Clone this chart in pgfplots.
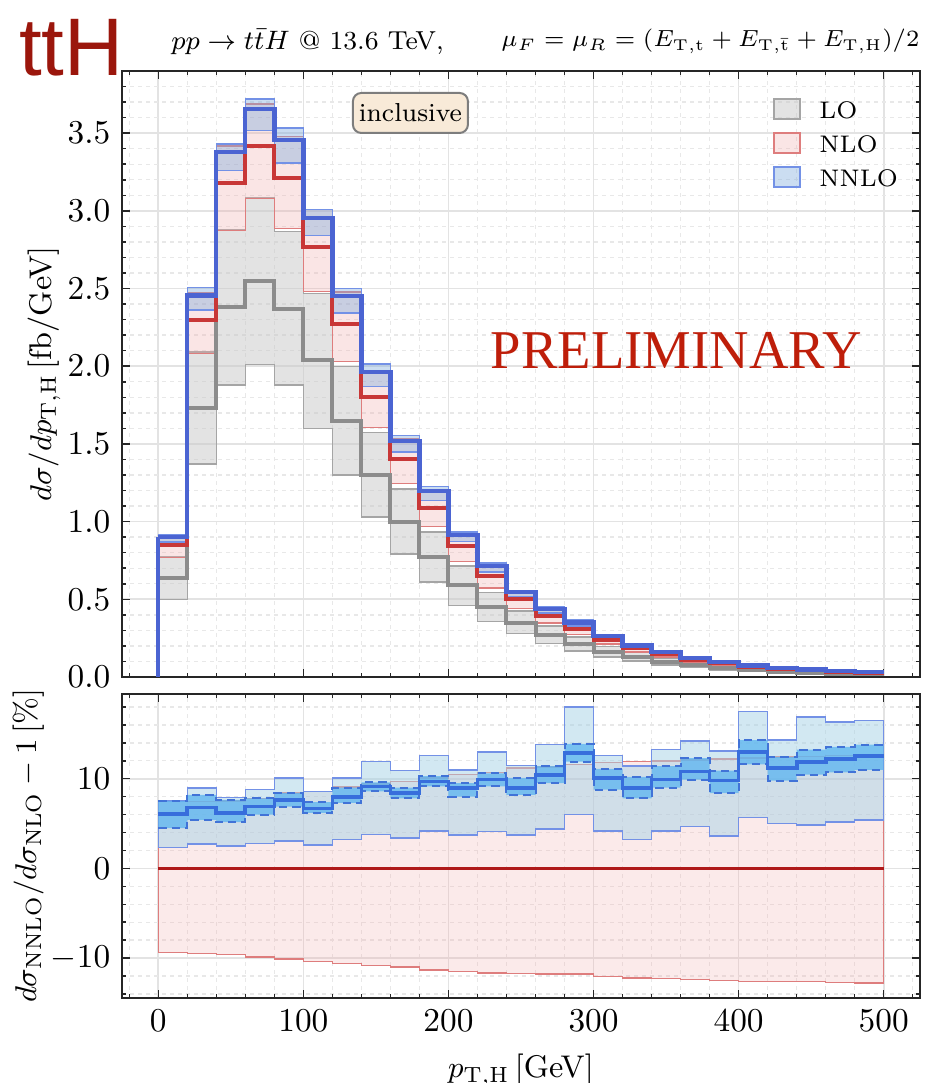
\documentclass[border=0pt]{standalone}
\usepackage{fontspec}
\usepackage{pgfplots}
\usepackage{pgfplotstable}
\usepgfplotslibrary{fillbetween}
\pgfplotsset{compat=1.18}
\newfontfamily\sansf{Liberation Sans}
\newfontfamily\seriff{Liberation Serif}

\definecolor{lofillc}{RGB}{200,200,200}
\definecolor{loedge}{RGB}{165,165,165}
\definecolor{loline}{RGB}{140,140,140}
\definecolor{nlofillc}{RGB}{240,170,170}
\definecolor{nloedge}{RGB}{222,125,125}
\definecolor{nloline}{RGB}{200,55,55}
\definecolor{nnlofillc}{RGB}{125,170,220}
\definecolor{nnloedge}{RGB}{115,145,230}
\definecolor{nnloline}{RGB}{75,100,210}
\definecolor{zeroline}{RGB}{175,25,25}
\definecolor{rnnlofill}{RGB}{165,210,230}
\definecolor{innerfill}{RGB}{90,180,240}
\definecolor{inneredge}{RGB}{65,115,215}
\definecolor{rline}{RGB}{55,110,220}
\definecolor{tthred}{RGB}{155,22,12}
\definecolor{prelim}{RGB}{190,30,10}
\definecolor{boxfill}{RGB}{248,234,216}
\definecolor{boxedge}{RGB}{125,125,125}

\pgfplotstableread{
x loc lolo lohi nloc nlolo nlohi nnc nnlo nnhi
0 0.64 0.50 0.774 0.85 0.770 0.913 0.901 0.870 0.914
20 1.73 1.37 2.093 2.30 2.082 2.471 2.456 2.362 2.506
40 2.38 1.88 2.880 3.18 2.875 3.419 3.377 3.260 3.431
60 2.55 2.01 3.086 3.42 3.081 3.687 3.656 3.516 3.721
80 2.37 1.88 2.868 3.21 2.886 3.480 3.456 3.308 3.534
100 2.04 1.60 2.468 2.77 2.482 3.008 2.956 2.842 3.008
120 1.65 1.30 1.997 2.27 2.029 2.477 2.452 2.343 2.499
140 1.30 1.03 1.573 1.80 1.606 1.969 1.965 1.868 2.014
160 1.00 0.79 1.210 1.40 1.246 1.536 1.518 1.448 1.553
180 0.77 0.61 0.932 1.09 0.967 1.200 1.196 1.136 1.227
200 0.59 0.46 0.714 0.84 0.743 0.928 0.915 0.871 0.932
220 0.45 0.356 0.545 0.65 0.574 0.720 0.714 0.677 0.735
240 0.35 0.28 0.424 0.50 0.442 0.556 0.545 0.519 0.558
260 0.27 0.217 0.327 0.395 0.349 0.440 0.436 0.412 0.450
280 0.212 0.167 0.257 0.31 0.273 0.346 0.350 0.329 0.366
300 0.163 0.129 0.197 0.24 0.211 0.268 0.264 0.250 0.270
320 0.131 0.103 0.159 0.185 0.162 0.207 0.202 0.191 0.206
340 0.099 0.078 0.120 0.146 0.128 0.164 0.160 0.152 0.165
360 0.077 0.061 0.093 0.112 0.098 0.126 0.124 0.117 0.128
380 0.058 0.046 0.070 0.087 0.076 0.098 0.0955 0.090 0.098
400 0.044 0.035 0.053 0.066 0.058 0.074 0.0746 0.070 0.078
420 0.035 0.028 0.042 0.053 0.046 0.060 0.0589 0.0557 0.0606
440 0.028 0.022 0.034 0.043 0.038 0.048 0.0481 0.0451 0.0503
460 0.022 0.017 0.027 0.035 0.031 0.039 0.0393 0.0368 0.0407
480 0.017 0.0135 0.021 0.027 0.0235 0.030 0.0304 0.0285 0.0315
500 0.017 0.0135 0.021 0.027 0.0235 0.030 0.0304 0.0285 0.0315
}\maintab

\pgfplotstableread{
x rlo rhi nnc nnlo nnhi inlo inhi
0 -9.4 7.45 6.05 2.35 7.5 4.5 7.5
20 -9.5 7.45 6.8 2.7 8.96 5.4 8.2
40 -9.6 7.5 6.2 2.5 7.9 5.15 7.65
60 -9.9 7.8 6.9 2.8 8.8 6.0 7.8
80 -10.1 8.4 7.65 3.06 10.1 6.9 8.4
100 -10.4 8.6 6.7 2.6 8.6 6.2 7.4
120 -10.6 9.1 8.0 3.2 10.1 7.3 9.0
140 -10.8 9.4 9.15 3.8 11.9 8.6 9.6
160 -11.0 9.7 8.4 3.4 10.9 7.8 9.0
180 -11.3 10.1 9.7 4.2 12.6 9.15 10.3
200 -11.5 10.5 8.96 3.7 11.0 8.0 9.5
220 -11.65 10.7 9.9 4.1 13.0 9.15 10.6
240 -11.7 11.2 9.0 3.7 11.5 8.2 10.1
260 -11.75 11.3 10.45 4.4 13.8 9.5 11.4
280 -11.8 11.6 12.9 6.0 18.0 11.9 13.9
300 -12.05 11.8 10.1 4.2 12.6 8.8 11.1
320 -12.2 11.9 8.96 3.25 11.4 7.8 10.2
340 -12.3 12.0 9.9 4.2 13.25 9.0 11.4
360 -12.4 12.1 10.8 4.7 14.2 9.9 12.3
380 -12.5 12.2 9.8 3.6 13.1 8.4 10.9
400 -12.6 12.3 13.0 5.7 17.5 11.6 14.3
420 -12.6 12.4 11.2 5.0 14.3 9.8 12.4
440 -12.6 12.5 11.9 4.85 16.9 10.45 13.25
460 -12.7 12.6 12.2 5.15 16.3 10.7 13.55
480 -12.8 12.7 12.5 5.4 16.5 11.0 13.8
500 -12.8 12.7 12.5 5.4 16.5 11.0 13.8
}\ratiotab

\pgfplotsset{
  histax/.style={
    scale only axis, width=239.4pt,
    xmin=-25, xmax=525,
    xtick={0,100,200,300,400,500},
    minor xtick={-20,20,40,60,80,120,140,160,180,220,240,260,280,320,340,360,380,420,440,460,480,520},
    tick align=inside,
    major tick length=2.4pt, minor tick length=1.3pt,
    tick style={black!85, line width=0.45pt},
    axis line style={black!85, line width=0.7pt},
    grid=both,
    major grid style={black!11, line width=0.5pt},
    minor grid style={black!9, line width=0.4pt, dash pattern=on 1.2pt off 1.2pt},
    tick label style={font=\fontsize{10.3}{12}\selectfont},
    label style={font=\fontsize{9.4}{11}\selectfont},
  }
}

\begin{document}
\begin{tikzpicture}

% ---------------- main panel ----------------
\begin{axis}[histax,
  at={(36.6pt,121.8pt)}, anchor=south west,
  height=181.8pt,
  ymin=0, ymax=3.9,
  ytick={0,0.5,1,1.5,2,2.5,3,3.5},
  minor ytick={0.1,0.2,0.3,0.4,0.6,0.7,0.8,0.9,1.1,1.2,1.3,1.4,1.6,1.7,1.8,1.9,2.1,2.2,2.3,2.4,2.6,2.7,2.8,2.9,3.1,3.2,3.3,3.4,3.6,3.7,3.8},
  yticklabel style={/pgf/number format/.cd, fixed, fixed zerofill, precision=1},
  xticklabels={},
  ylabel={$d\sigma/dp_{\mathrm{T,H}}$\,[fb/GeV]},
  ylabel style={at={(axis description cs:-0.0977,0.5)}, anchor=center},
  legend image code/.code={\draw[#1, line width=0.5pt] (0pt,-3pt) rectangle (7.8pt,3pt);},
  legend style={draw=none, fill=none, at={(0.992,0.972)}, anchor=north east,
    font=\fontsize{7.2}{9}\selectfont, row sep=1.8pt,
    nodes={inner sep=1.5pt, text height=5.4pt, text depth=0pt},
    /tikz/every odd column/.append style={column sep=4pt}},
  legend cell align=left,
]
\addlegendimage{fill=lofillc, fill opacity=0.5, draw=loedge}
\addlegendimage{fill=nlofillc, fill opacity=0.3, draw=nloedge}
\addlegendimage{fill=nnlofillc, fill opacity=0.4, draw=nnloedge}
\legend{LO,NLO,NNLO}

% LO band
\addplot[const plot, draw=none, forget plot, name path=LOhi] table[x=x,y=lohi]{\maintab};
\addplot[const plot, draw=none, forget plot, name path=LOlo] table[x=x,y=lolo]{\maintab};
\addplot[fill=lofillc, fill opacity=0.5, draw=loedge, line width=0.45pt, forget plot] fill between[of=LOhi and LOlo];
% NLO band
\addplot[const plot, draw=none, forget plot, name path=NLOhi] table[x=x,y=nlohi]{\maintab};
\addplot[const plot, draw=none, forget plot, name path=NLOlo] table[x=x,y=nlolo]{\maintab};
\addplot[fill=nlofillc, fill opacity=0.3, draw=nloedge, line width=0.45pt, forget plot] fill between[of=NLOhi and NLOlo];
% NNLO band
\addplot[const plot, draw=none, forget plot, name path=NNhi] table[x=x,y=nnhi]{\maintab};
\addplot[const plot, draw=none, forget plot, name path=NNlo] table[x=x,y=nnlo]{\maintab};
\addplot[fill=nnlofillc, fill opacity=0.4, draw=nnloedge, line width=0.45pt, forget plot] fill between[of=NNhi and NNlo];

% central lines
\addplot[const plot, loline, line width=1.2pt, forget plot] table[x=x,y=loc]{\maintab};
\addplot[loline, line width=1.2pt, forget plot] coordinates {(0,0) (0,0.64)};
\addplot[const plot, nloline, line width=1.2pt, forget plot] table[x=x,y=nloc]{\maintab};
\addplot[nloline, line width=1.2pt, forget plot] coordinates {(0,0) (0,0.85)};
\addplot[const plot, nnloline, line width=1.3pt, forget plot] table[x=x,y=nnc]{\maintab};
\addplot[nnloline, line width=1.3pt, forget plot] coordinates {(0,0) (0,0.901)};

\node[draw=boxedge, fill=boxfill, rounded corners=2.5pt, line width=0.6pt,
  font=\fontsize{7.8}{9}\selectfont, minimum width=34.5pt, minimum height=12pt, inner sep=1pt]
  at (axis cs:173.8,3.63) {inclusive};
\node[font=\seriff\fontsize{16.4}{18}\selectfont, text=prelim] at (axis cs:357,2.10) {PRELIMINARY};
\end{axis}

% ---------------- ratio panel ----------------
\begin{axis}[histax,
  at={(36.6pt,25.5pt)}, anchor=south west,
  height=91.2pt,
  ymin=-14.45, ymax=19.45,
  ytick={-10,0,10},
  minor ytick={-14,-12,-8,-6,-4,-2,2,4,6,8,12,14,16,18},
  xlabel={$p_{\mathrm{T,H}}$\,[GeV]},
  ylabel={$d\sigma_{\mathrm{NNLO}}/d\sigma_{\mathrm{NLO}}-1$\,[\%]},
  ylabel style={at={(axis description cs:-0.1175,0.5)}, anchor=center},
]
% NLO band
\addplot[const plot, draw=none, forget plot, name path=Rhi] table[x=x,y=rhi]{\ratiotab};
\addplot[const plot, draw=none, forget plot, name path=Rlo] table[x=x,y=rlo]{\ratiotab};
\addplot[fill=nlofillc, fill opacity=0.25, draw=nloedge, line width=0.45pt, forget plot] fill between[of=Rhi and Rlo];
% NNLO outer band
\addplot[const plot, draw=none, forget plot, name path=Ohi] table[x=x,y=nnhi]{\ratiotab};
\addplot[const plot, draw=none, forget plot, name path=Olo] table[x=x,y=nnlo]{\ratiotab};
\addplot[fill=rnnlofill, fill opacity=0.5, draw=nnloedge, line width=0.45pt, forget plot] fill between[of=Ohi and Olo];
% NNLO inner band
\addplot[const plot, draw=none, forget plot, name path=Ihi] table[x=x,y=inhi]{\ratiotab};
\addplot[const plot, draw=none, forget plot, name path=Ilo] table[x=x,y=inlo]{\ratiotab};
\addplot[fill=innerfill, fill opacity=0.75, draw=none, forget plot] fill between[of=Ihi and Ilo];
\addplot[const plot, inneredge, line width=0.6pt, dash pattern=on 2.5pt off 1.5pt, forget plot] table[x=x,y=inhi]{\ratiotab};
\addplot[const plot, inneredge, line width=0.6pt, dash pattern=on 2.5pt off 1.5pt, forget plot] table[x=x,y=inlo]{\ratiotab};
% zero line and NNLO central
\addplot[zeroline, line width=1.1pt, forget plot] coordinates {(0,0) (500,0)};
\addplot[const plot, rline, line width=1.1pt, forget plot] table[x=x,y=nnc]{\ratiotab};
\end{axis}

% ---------------- header texts ----------------
\node[anchor=west, inner sep=0pt, font=\sansf\fontsize{24.5}{25}\selectfont, text=tthred] at (5.5pt,310.6pt) {ttH};
\node[anchor=west, inner sep=0pt, font=\fontsize{7.8}{10}\selectfont] at (51.2pt,312.4pt) {$pp\to t\bar{t}H$ @ 13.6 TeV,};
\node[anchor=east, inner sep=0pt, font=\fontsize{6.7}{8}\selectfont] at (276pt,312.4pt) {$\mu_F=\mu_R=(E_{\mathrm{T,t}}+E_{\mathrm{T},\bar{\mathrm{t}}}+E_{\mathrm{T,H}})/2$};

\pgfresetboundingbox
\useasboundingbox (0pt,0pt) rectangle (284.1pt,324.9pt);
\end{tikzpicture}
\end{document}
